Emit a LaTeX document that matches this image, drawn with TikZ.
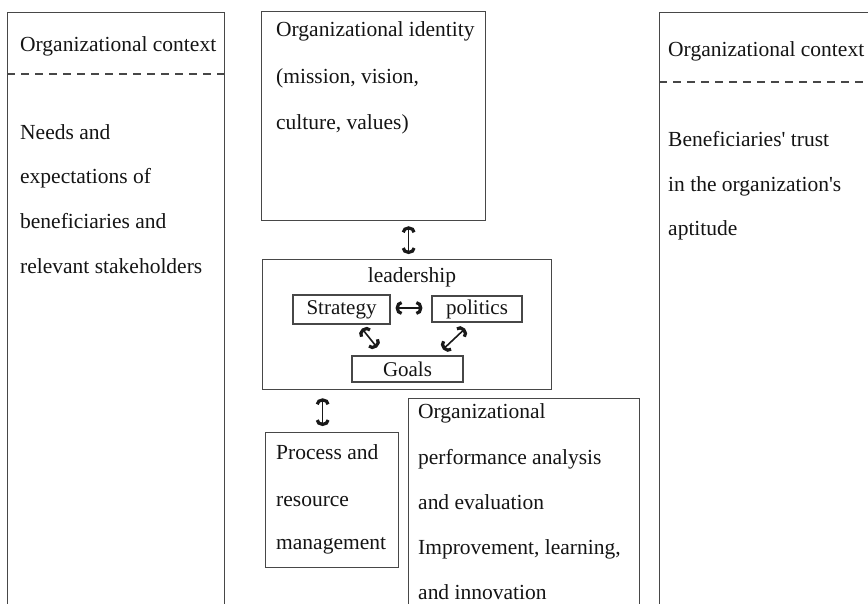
\documentclass[tikz,border=0pt]{standalone}
\usepackage{fontspec}
\setmainfont{Liberation Serif}[Ligatures=TeXOff]
\usetikzlibrary{arrows.meta}
\begin{document}
\begin{tikzpicture}[x=1pt,y=-1pt,
  box/.style={draw=black!72, line width=1.3pt, rectangle, inner sep=0pt, anchor=north west},
  sbox/.style={draw=black!72, line width=1.3pt, rectangle, inner sep=0pt, font=\fontsize{21}{22}\selectfont, text=black!92},
  txt/.style={anchor=base west, inner sep=0pt, font=\fontsize{21.5}{22}\selectfont, text=black!92},
  dbl/.style={line width=1.6pt, black!90, {Arc Barb[length=6pt,width=14pt,line width=3.2pt]}-{Arc Barb[length=6pt,width=14pt,line width=3.2pt]}},
  divider/.style={draw=black!72, line width=1.3pt, dash pattern=on 8pt off 6pt},
]
\useasboundingbox (0,0) rectangle (868,603);
\clip (0,0) rectangle (868,603);

% left context box
\node[box, minimum width=217pt, minimum height=620pt] (lc) at (7,12) {};
\coordinate (lcd1) at (7,74);
\coordinate (lcd2) at (224,74);
\draw[divider] (lcd1) -- (lcd2);
\node[txt] (lct) at (20,51) {Organizational context};
\node[txt] (lc1) at (20,139) {Needs and};
\node[txt] (lc2) at (20,183) {expectations of};
\node[txt] (lc3) at (20,228) {beneficiaries and};
\node[txt] (lc4) at (20,273) {relevant stakeholders};

% right context box
\node[box, minimum width=260pt, minimum height=620pt] (rc) at (659,12) {};
\coordinate (rcd1) at (659,82);
\coordinate (rcd2) at (880,82);
\draw[divider] (rcd1) -- (rcd2);
\node[txt] (rct) at (668,56) {Organizational context};
\node[txt] (rc1) at (668,146) {Beneficiaries' trust};
\node[txt] (rc2) at (668,191) {in the organization's};
\node[txt] (rc3) at (668,235) {aptitude};

% identity
\node[box, minimum width=224pt, minimum height=209pt] (id) at (261,11) {};
\node[txt] (id1) at (276,36) {Organizational identity};
\node[txt] (id2) at (276,83) {(mission, vision,};
\node[txt] (id3) at (276,129) {culture, values)};

% leadership
\node[box, minimum width=289pt, minimum height=130pt] (lead) at (262,259) {};
\node[txt, anchor=base] (leadt) at (412,282) {leadership};
\node[sbox, minimum width=97pt, minimum height=29pt] (strat) at (341.5,309.5) {Strategy};
\node[sbox, minimum width=90pt, minimum height=26pt] (pol) at (477,309) {politics};
\node[sbox, minimum width=111pt, minimum height=26pt] (goals) at (407.5,369) {Goals};

% process
\node[box, minimum width=133pt, minimum height=135pt] (proc) at (265,432) {};
\node[txt] (pr1) at (276,459) {Process and};
\node[txt] (pr2) at (276,506) {resource};
\node[txt] (pr3) at (276,549) {management};

% performance
\node[box, minimum width=231pt, minimum height=230pt] (perf) at (408,398) {};
\node[txt] (pf1) at (418,418) {Organizational};
\node[txt] (pf2) at (418,464) {performance analysis};
\node[txt] (pf3) at (418,509) {and evaluation};
\node[txt] (pf4) at (418,554) {Improvement, learning,};
\node[txt] (pf5) at (418,599) {and innovation};

% arrows
\draw[dbl] ([xshift=35pt,yshift=-5pt]id.south) -- ([xshift=1.5pt,yshift=5pt]lead.north);
\draw[dbl] ([xshift=5pt,yshift=1.5pt]strat.east) -- ([xshift=-9pt,yshift=1pt]pol.west);
\draw[dbl] ([xshift=20.5pt,yshift=-4pt]strat.south) -- ([xshift=-30.5pt,yshift=8pt]goals.north);
\draw[dbl] ([xshift=-12pt,yshift=-6pt]pol.south) -- ([xshift=35.5pt,yshift=6pt]goals.north);
\draw[dbl] ([xshift=-84.5pt,yshift=-8pt]lead.south) -- ([xshift=-9.5pt,yshift=6pt]proc.north);
\end{tikzpicture}
\end{document}
